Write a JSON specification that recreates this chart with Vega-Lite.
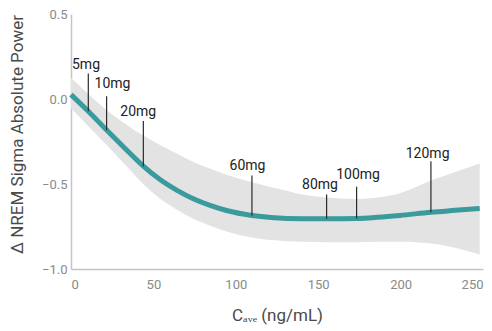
{
  "$schema": "https://vega.github.io/schema/vega-lite/v6.json",
  "width": 412,
  "height": 255,
  "autosize": {"type": "none"},
  "padding": {"left": 71, "top": 14, "right": 9, "bottom": 62},
  "background": "white",
  "config": {
    "view": {"stroke": null},
    "font": "Roboto",
    "axis": {"grid": false, "ticks": false, "domainColor": "#c4c4c4", "domainWidth": 1.5, "labelColor": "#8a8a8a", "labelFontSize": 13, "titleColor": "#4a4a4a", "titleFontSize": 17, "titleFontWeight": "normal", "labelFont": "Roboto", "titleFont": "Roboto"}
  },
  "datasets": {
    "curve": [
      {"x": 0, "y": 0.026, "lo": -0.055, "hi": 0.125},
      {"x": 10.5, "y": -0.072, "lo": -0.16, "hi": 0.03},
      {"x": 21.6, "y": -0.183, "lo": -0.27, "hi": -0.065},
      {"x": 32.8, "y": -0.291, "lo": -0.385, "hi": -0.145},
      {"x": 43.9, "y": -0.395, "lo": -0.5, "hi": -0.215},
      {"x": 54, "y": -0.474, "lo": -0.585, "hi": -0.27},
      {"x": 64.1, "y": -0.536, "lo": -0.65, "hi": -0.32},
      {"x": 74.2, "y": -0.587, "lo": -0.705, "hi": -0.37},
      {"x": 84.4, "y": -0.626, "lo": -0.745, "hi": -0.41},
      {"x": 94.4, "y": -0.656, "lo": -0.78, "hi": -0.445},
      {"x": 109.8, "y": -0.685, "lo": -0.815, "hi": -0.49},
      {"x": 128.8, "y": -0.701, "lo": -0.835, "hi": -0.535},
      {"x": 142, "y": -0.704, "lo": -0.84, "hi": -0.565},
      {"x": 155.1, "y": -0.705, "lo": -0.842, "hi": -0.58},
      {"x": 173.3, "y": -0.703, "lo": -0.842, "hi": -0.588},
      {"x": 186, "y": -0.696, "lo": -0.84, "hi": -0.58},
      {"x": 199.6, "y": -0.685, "lo": -0.84, "hi": -0.555},
      {"x": 218.4, "y": -0.666, "lo": -0.85, "hi": -0.48},
      {"x": 233, "y": -0.655, "lo": -0.875, "hi": -0.43},
      {"x": 248, "y": -0.644, "lo": -0.915, "hi": -0.38}
    ],
    "doses": [
      {"dose": "5mg", "x": 10.5, "y": -0.072, "top": 0.15, "lx": 9.1, "ly": 0.174},
      {"dose": "10mg", "x": 21.6, "y": -0.183, "top": 0.016, "lx": 25.2, "ly": 0.066},
      {"dose": "20mg", "x": 43.9, "y": -0.395, "top": -0.13, "lx": 40.8, "ly": -0.101},
      {"dose": "60mg", "x": 109.8, "y": -0.685, "top": -0.45, "lx": 107.1, "ly": -0.415},
      {"dose": "80mg", "x": 155.1, "y": -0.705, "top": -0.562, "lx": 151.1, "ly": -0.528},
      {"dose": "100mg", "x": 173.3, "y": -0.703, "top": -0.516, "lx": 174.2, "ly": -0.47},
      {"dose": "120mg", "x": 218.4, "y": -0.666, "top": -0.366, "lx": 216.4, "ly": -0.346}
    ]
  },
  "layer": [
    {
      "data": {"name": "curve"},
      "mark": {"type": "area", "color": "#e3e3e3", "interpolate": "monotone"},
      "encoding": {
        "x": {"field": "x", "type": "quantitative", "scale": {"domain": [0, 250], "nice": false}, "axis": {"values": [0, 50, 100, 150, 200, 250], "title": "Cₐᵥₑ (ng/mL)", "labelPadding": 9, "titleBaseline": "alphabetic", "titleY": 51}},
        "y": {"field": "lo", "type": "quantitative", "scale": {"domain": [-1, 0.5], "nice": false}, "axis": {"values": [-1, -0.5, 0, 0.5], "format": ".1f", "title": "Δ NREM Sigma Absolute Power", "labelPadding": 4, "titleBaseline": "alphabetic", "titleX": -49, "titleY": 120}},
        "y2": {"field": "hi"}
      }
    },
    {
      "data": {"name": "curve"},
      "mark": {"type": "line", "color": "#3a9a9c", "strokeWidth": 5, "interpolate": "monotone"},
      "encoding": {
        "x": {"field": "x", "type": "quantitative"},
        "y": {"field": "y", "type": "quantitative"}
      }
    },
    {
      "data": {"name": "doses"},
      "mark": {"type": "rule", "color": "#2b2b2b", "strokeWidth": 1.2},
      "encoding": {
        "x": {"field": "x", "type": "quantitative"},
        "y": {"field": "y", "type": "quantitative"},
        "y2": {"field": "top"}
      }
    },
    {
      "data": {"name": "doses"},
      "mark": {"type": "text", "color": "#222222", "fontSize": 14, "align": "center", "baseline": "alphabetic", "font": "Roboto"},
      "encoding": {
        "x": {"field": "lx", "type": "quantitative"},
        "y": {"field": "ly", "type": "quantitative"},
        "text": {"field": "dose"}
      }
    }
  ]
}
